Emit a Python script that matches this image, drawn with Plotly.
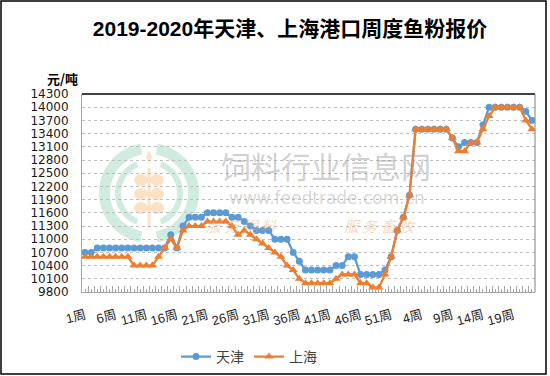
import numpy as np
import plotly.graph_objects as go

# ---------------- data ----------------
week_labels = [
    "1周", "2周", "3周", "4周", "5周", "6周", "7周", "8周", "9周", "10周",
    "11周", "12周", "13周", "14周", "15周", "16周", "17周", "18周", "19周", "20周",
    "21周", "22周", "23周", "24周", "25周", "26周", "27周", "28周", "29周", "30周",
    "31周", "32周", "33周", "34周", "35周", "36周", "37周", "38周", "39周", "40周",
    "41周", "42周", "43周", "44周", "45周", "46周", "47周", "48周", "49周", "50周",
    "51周", "52周",
    "1周", "2周", "3周", "4周", "5周", "6周", "7周", "8周", "9周", "10周",
    "11周", "12周", "13周", "14周", "15周", "16周", "17周", "18周", "19周", "20周",
    "21周", "22周",
]
tick_labels = ["1周", "6周", "11周", "16周", "21周", "26周", "31周", "36周",
               "41周", "46周", "51周", "4周", "9周", "14周", "19周"]
y_ticks = [9800, 10100, 10400, 10700, 11000, 11300, 11600, 11900,
           12200, 12500, 12800, 13100, 13400, 13700, 14000, 14300]

tianjin = [
    10700, 10700, 10800, 10800, 10800, 10800, 10800, 10800, 10800, 10800,
    10800, 10800, 10800, 10800, 11100, 10800, 11300, 11500, 11500, 11500,
    11600, 11600, 11600, 11600, 11500, 11500, 11400, 11300, 11200, 11200,
    11200, 11000, 11000, 11000, 10700, 10500, 10300, 10300, 10300, 10300,
    10300, 10400, 10400, 10600, 10600, 10200, 10200, 10200, 10200, 10300,
    10600, 11200, 11500, 12000, 13500, 13500, 13500, 13500, 13500, 13500,
    13300, 13100, 13200, 13200, 13200, 13600, 14000, 14000, 14000, 14000,
    14000, 14000, 13900, 13700,
]
shanghai = [
    10600, 10600, 10600, 10600, 10600, 10600, 10600, 10600, 10400, 10400,
    10400, 10400, 10600, 10800, 11000, 10800, 11200, 11300, 11300, 11300,
    11400, 11400, 11400, 11400, 11300, 11100, 11200, 11100, 11000, 10900,
    10800, 10700, 10600, 10400, 10300, 10100, 10000, 10000, 10000, 10000,
    10000, 10100, 10200, 10200, 10200, 10000, 10000, 9900, 9900, 10200,
    10600, 11200, 11500, 12000, 13500, 13500, 13500, 13500, 13500, 13500,
    13300, 13000, 13000, 13200, 13200, 13500, 13800, 14000, 14000, 14000,
    14000, 14000, 13700, 13500,
]

# ---------------- geometry ----------------
W, H = 550, 376
L, R, T, B = 82, 15, 94, 84
PW = W - L - R
PH = H - T - B
FONT = "Liberation Sans, Noto Sans CJK SC, sans-serif"
CJK = "Noto Sans CJK SC, sans-serif"


def px(xp):
    return (xp - L) / PW


def py(yp):
    return (H - B - yp) / PH


n = len(week_labels)
xpos = list(range(n))
tick_pos = xpos[0:5 * len(tick_labels):5]
tick_text = [""] * n
for p, lab in zip(tick_pos, tick_labels):
    tick_text[p] = lab

fig = go.Figure()
fig.add_trace(go.Scatter(
    x=xpos, y=tianjin, name="天津", mode="lines+markers",
    line=dict(color="#5B9BD5", width=2.25),
    marker=dict(symbol="circle", size=7, color="#5B9BD5"),
))
fig.add_trace(go.Scatter(
    x=xpos, y=shanghai, name="上海", mode="lines+markers",
    line=dict(color="#ED7D31", width=2.25),
    marker=dict(symbol="triangle-up", size=8, color="#ED7D31"),
))

# ---------------- watermark (decoration) ----------------
shapes = []


def arc_path(cx, cy, r_out, r_in, a0, a1, steps=40):
    angs = np.radians(np.linspace(a0, a1, steps))
    pts = [(cx + r_out * np.cos(a), cy - r_out * np.sin(a)) for a in angs]
    pts += [(cx + r_in * np.cos(a), cy - r_in * np.sin(a)) for a in angs[::-1]]
    return "M " + " L ".join(f"{px(x):.4f},{py(y):.4f}" for x, y in pts) + " Z"


green = "rgba(170,220,195,0.55)"
cx, cy = 149, 193
for a0, a1 in [(100, 260), (-80, 80)]:
    shapes.append(dict(type="path", xref="paper", yref="paper", layer="below",
                       path=arc_path(cx, cy, 50, 39, a0, a1), fillcolor=green,
                       line=dict(width=0)))
for a0, a1 in [(112, 248), (-68, 68)]:
    shapes.append(dict(type="path", xref="paper", yref="paper", layer="below",
                       path=arc_path(cx, cy, 34, 28, a0, a1), fillcolor=green,
                       line=dict(width=0)))
wheat = "rgba(250,200,150,0.55)"
for (gx, gy) in [(141, 180), (157, 180), (141, 194), (157, 194), (141, 208), (157, 208)]:
    shapes.append(dict(type="circle", xref="paper", yref="paper", layer="below",
                       x0=px(gx - 7), x1=px(gx + 7), y0=py(gy + 6), y1=py(gy - 6),
                       fillcolor=wheat, line=dict(width=0)))
shapes.append(dict(type="rect", xref="paper", yref="paper", layer="below",
                   x0=px(147.5), x1=px(150.5), y0=py(228), y1=py(168),
                   fillcolor=wheat, line=dict(width=0)))
shapes.append(dict(type="path", xref="paper", yref="paper", layer="below",
                   path=(f"M {px(149):.4f},{py(150):.4f} L {px(152):.4f},{py(157):.4f} "
                         f"L {px(149):.4f},{py(164):.4f} L {px(146):.4f},{py(157):.4f} Z"),
                   fillcolor=wheat, line=dict(width=0)))

# plot borders and outer frame
shapes.append(dict(type="line", xref="paper", yref="paper", x0=0, x1=1, y0=1, y1=1,
                   line=dict(color="#000000", width=1.5)))
shapes.append(dict(type="line", xref="paper", yref="paper", x0=1, x1=1, y0=0, y1=1,
                   line=dict(color="#7F7F7F", width=1)))
shapes.append(dict(type="rect", xref="paper", yref="paper",
                   x0=px(1), x1=px(546), y0=py(374), y1=py(1),
                   line=dict(color="#000000", width=1.5)))

annotations = [
    dict(text="饲料行业信息网", xref="paper", yref="paper", x=px(326), y=py(165),
         showarrow=False, font=dict(family=CJK, size=30, color="rgba(150,150,150,0.45)")),
    dict(text="www.feedtrade.com.cn", xref="paper", yref="paper", x=px(327), y=py(198),
         showarrow=False, font=dict(family="DejaVu Sans, sans-serif", size=17,
                                    color="rgba(150,150,150,0.40)")),
    dict(text="<i>服 务 饲 料</i>", xref="paper", yref="paper", x=px(279), y=py(225),
         xanchor="right", showarrow=False,
         font=dict(family=CJK, size=15, color="rgba(244,170,120,0.45)")),
    dict(text="<i>服 务 畜 牧</i>", xref="paper", yref="paper", x=px(342), y=py(225),
         xanchor="left", showarrow=False,
         font=dict(family=CJK, size=15, color="rgba(244,170,120,0.45)")),
    dict(text="<b>元/吨</b>", xref="paper", yref="paper", x=px(45), y=py(67),
         showarrow=False, font=dict(family=CJK, size=13, color="#000000")),
]

fig.update_layout(
    width=W, height=H,
    margin=dict(l=L, r=R, t=T, b=B, pad=0),
    paper_bgcolor="#FFFFFF", plot_bgcolor="#FFFFFF",
    font=dict(family=FONT, color="#000000"),
    title=dict(text="<b>2019-2020年天津、上海港口周度鱼粉报价</b>",
               x=290 / W, xanchor="center", xref="container",
               y=1 - 28.5 / H, yanchor="middle", yref="container",
               font=dict(family=FONT, size=21, color="#000000")),
    showlegend=True,
    legend=dict(orientation="h", xref="container", yref="container",
                x=176 / W, xanchor="left", y=1 - 357 / H, yanchor="middle",
                font=dict(family=CJK, size=14, color="#404040"),
                bgcolor="rgba(0,0,0,0)"),
    xaxis=dict(
        range=[-0.5, n - 0.5], tickmode="array", tickvals=xpos, ticktext=tick_text,
        tickangle=-15, ticks="inside", ticklen=3, tickcolor="#A6A6A6",
        showline=True, linecolor="#A6A6A6", linewidth=1,
        showgrid=False, zeroline=False, ticklabelstandoff=10,
        tickfont=dict(family=FONT, size=13, color="#262626"),
        minor=dict(tickmode="array", tickvals=[i - 0.5 for i in range(n + 1)],
                   ticks="inside", ticklen=6, tickcolor="#A6A6A6", showgrid=False),
    ),
    yaxis=dict(
        range=[9800, 14300], tickmode="array", tickvals=y_ticks,
        ticktext=[str(v) for v in y_ticks],
        ticks="", showline=True, linecolor="#A6A6A6", linewidth=1,
        showgrid=True, gridcolor="#BFBFBF", griddash="dot", gridwidth=1,
        zeroline=False, ticklabelstandoff=10,
        tickfont=dict(family="DejaVu Sans, sans-serif", size=12, color="#1A1A1A"),
    ),
    shapes=shapes,
    annotations=annotations,
)

fig.write_html("out.html", config={"displayModeBar": False},
               post_script="document.body.style.margin='0px';document.body.style.overflow='hidden';")
